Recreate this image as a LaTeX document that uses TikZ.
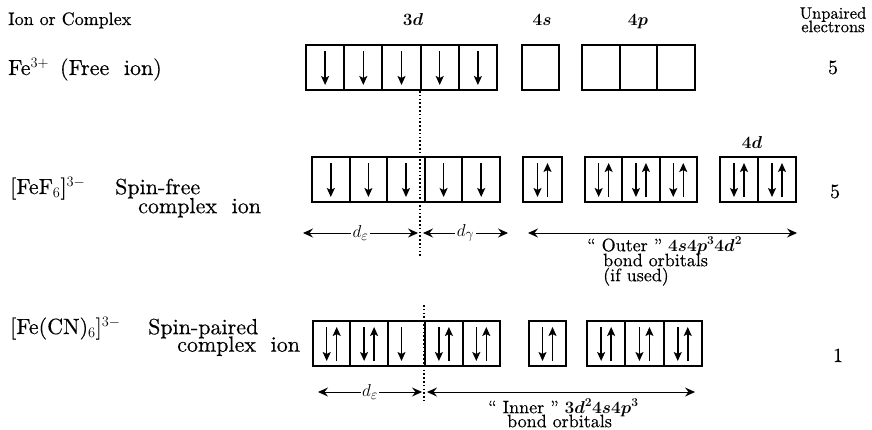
\documentclass[tikz,border=0pt]{standalone}
\usepackage{fontspec}
% the 10pt design of Latin Modern at every size, slightly darkened
\setmainfont{lmroman10-regular}[Extension=.otf, FakeBold=0.4,
  ItalicFont=lmroman10-italic, BoldFont=lmroman10-bold,
  BoldItalicFont=lmroman10-bolditalic]
\usetikzlibrary{arrows.meta}
% one row of orbital cells: name prefix, left x, top y, cell width, number of cells
\newcommand\orbrow[5]{\foreach \i in {1,...,#5}{\node[cell=#4pt] (#1\i) at ({#2+(\i-1)*#4},#3) {};}}
% spin arrows inside a cell: cell name, horizontal offset
\newcommand\spindown[2]{\draw[spin] ([xshift=#2,yshift=-6pt]#1.north) -- ([xshift=#2,yshift=5pt]#1.south);}
\newcommand\spinup[2]{\draw[spin] ([xshift=#2,yshift=5pt]#1.south) -- ([xshift=#2,yshift=-6pt]#1.north);}
\newcommand\spinpair[1]{\spindown{#1}{-5pt}\spinup{#1}{5pt}}
% font size with a fixed line pitch
\newcommand\tightfont[2]{\fontsize{#1}{#2}\selectfont\lineskiplimit=-50pt\relax}
\begin{document}
\begin{tikzpicture}[x=1pt,y=-1pt,
  cell/.style={draw, line width=2pt, minimum width=#1, minimum height=45pt,
    inner sep=0pt, outer sep=0pt, anchor=north west},
  spin/.style={line width=1.5pt, -{Stealth[length=9pt,width=8pt,inset=2pt]}},
  dim/.style={line width=0.9pt,
    {Stealth[length=10pt,width=9pt,inset=3.5pt]}-{Stealth[length=10pt,width=9pt,inset=3.5pt]}},
  divider/.style={line width=1.8pt, dash pattern=on 1.6pt off 2.2pt},
  hdr/.style={inner sep=0pt, anchor=base, font=\fontsize{18}{14}\selectfont},
  orblabel/.style={inner sep=0pt, anchor=base, font=\fontsize{18}{18}\selectfont\mathversion{bold}},
  lbl/.style={inner sep=0pt, anchor=base west, font=\fontsize{22}{22}\selectfont},
  lbl2/.style={inner sep=0pt, anchor=north west, align=left, font=\tightfont{22}{#1}},
  note/.style={inner sep=0pt, anchor=north west, align=left,
    font=\tightfont{18}{#1}\mathversion{bold}},
  count/.style={inner sep=0pt, anchor=base, font=\fontsize{20}{20}\selectfont},
  dimlabel/.style={fill=white, inner sep=1.5pt, font=\fontsize{19}{19}\selectfont}]
\useasboundingbox (0,0) rectangle (872,429);

% column headings
\node[hdr, anchor=base west] (hion) at (8,25) {Ion or Complex};
\node[orblabel] (h3d) at (413,25) {$3d$};
\node[orblabel] (h4s) at (542,25) {$4s$};
\node[orblabel] (h4p) at (638,25) {$4p$};
\node[inner sep=0pt, anchor=north, align=center, font=\tightfont{16.5}{13.5}]
  (hunp) at (833,7) {Unpaired\\electrons};

% Fe3+ free ion
\node[lbl] (ion1) at (8,75) {Fe$^{3+}$\enspace(Free\ \ ion)};
\orbrow{a}{306}{45}{38.2}{5}
\orbrow{as}{522}{45}{37}{1}
\orbrow{ap}{582}{45}{37.7}{3}
\foreach \n in {a1,a2,a3,a4,a5} {\spindown{\n}{0pt}}
\node[count] (n1) at (833,74) {5};

% [FeF6]3- spin-free complex
\node[lbl] (ion2) at (10,194) {[FeF$_6$]$^{3-}$};
\node[lbl2=19pt] (ion2a) at (115,178.5) {Spin-free\\\hspace*{23pt}complex\ \ ion};
\orbrow{b}{312}{157}{37.6}{5}
\orbrow{bs}{523}{157}{39}{1}
\orbrow{bp}{585}{157}{37.3}{3}
\orbrow{bd}{720}{157}{38}{2}
\foreach \n in {b1,b2,b3,b4,b5} {\spindown{\n}{0pt}}
\foreach \n in {bs1,bp1,bp2,bp3,bd1,bd2} {\spinpair{\n}}
\node[orblabel] (h4d) at (752,148) {$4d$};
\node[count] (n2) at (835,198) {5};

% d-epsilon / d-gamma split and outer orbitals
\coordinate (e1) at (303,233);
\coordinate (e2) at (418,233);
\coordinate (g1) at (423,233);
\coordinate (g2) at (508,233);
\coordinate (o1) at (528,233);
\coordinate (o2) at (797,233);
\draw[dim] (e1) -- node[dimlabel] (de1) {$d_\varepsilon$} (e2);
\draw[dim] (g1) -- node[dimlabel] (dg1) {$d_\gamma$} (g2);
\draw[dim] (o1) -- (o2);
\node[note=15pt] (outer) at (587,237)
  {`` Outer '' $4s4p^3 4d^2$\\\hspace*{16pt}bond orbitals\\\hspace*{16pt}(if used)};

% dotted divider between the two d sets
\coordinate (v1) at (420,91);
\coordinate (v2) at (420,258);
\draw[divider] (v1) -- (v2);

% [Fe(CN)6]3- spin-paired complex
\node[lbl] (ion3) at (10,334) {[Fe(CN)$_6$]$^{3-}$};
\node[lbl2=17.5pt] (ion3a) at (148,318.5) {Spin-paired\\\hspace*{29pt}complex\ \ ion};
\orbrow{c}{313}{321}{37.4}{5}
\orbrow{cs}{529}{321}{37}{1}
\orbrow{cp}{587}{321}{38.3}{3}
\foreach \n in {c1,c2,c4,c5,cs1,cp1,cp2,cp3} {\spinpair{\n}}
\spindown{c3}{-5pt}
\node[count] (n3) at (838,362) {1};

\coordinate (w1) at (424,305);
\coordinate (w2) at (424,401);
\draw[divider] (w1) -- (w2);

\coordinate (f1) at (318,392);
\coordinate (f2) at (422,392);
\coordinate (i1) at (427,392);
\coordinate (i2) at (695,392);
\draw[dim] (f1) -- node[dimlabel] (de2) {$d_\varepsilon$} (f2);
\draw[dim] (i1) -- (i2);
\node[note=14pt] (inner) at (488,399)
  {`` Inner '' $3d^2 4s4p^3$\\\hspace*{19pt}bond orbitals};
\end{tikzpicture}
\end{document}
